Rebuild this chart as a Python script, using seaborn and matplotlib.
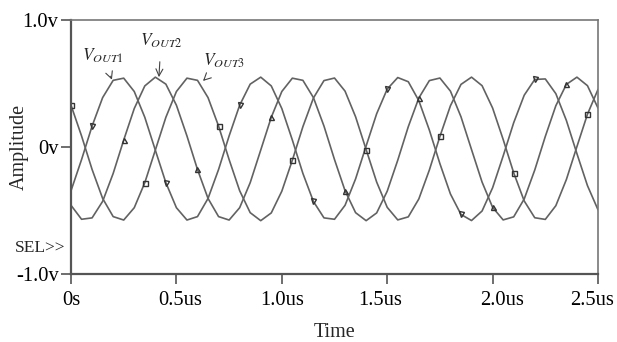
import numpy as np
import seaborn as sns
import matplotlib.pyplot as plt
from matplotlib.transforms import ScaledTranslation

# sample grid (us) and the three outputs (V)
time_us = np.linspace(0, 2.5, 51)

v_out1 = [-0.344, -0.099, 0.165, 0.389, 0.525, 0.542, 0.437, 0.234, -0.025, -0.281,
          -0.478, -0.575, -0.548, -0.405, -0.177, 0.087, 0.329, 0.495, 0.550, 0.481,
          0.303, 0.055, -0.208, -0.429, -0.558, -0.569, -0.459, -0.251, 0.008, 0.262,
          0.456, 0.547, 0.514, 0.365, 0.133, -0.131, -0.370, -0.531, -0.579, -0.504,
          -0.321, -0.071, 0.191, 0.408, 0.532, 0.536, 0.420, 0.209, -0.052, -0.304,
          -0.494]

v_out2 = [-0.459, -0.569, -0.558, -0.428, -0.208, 0.055, 0.303, 0.481, 0.550, 0.495,
          0.329, 0.087, -0.177, -0.405, -0.548, -0.575, -0.478, -0.281, -0.024, 0.234,
          0.437, 0.542, 0.525, 0.389, 0.165, -0.099, -0.344, -0.517, -0.580, -0.519,
          -0.348, -0.104, 0.160, 0.386, 0.523, 0.543, 0.440, 0.238, -0.020, -0.276,
          -0.475, -0.574, -0.550, -0.409, -0.181, 0.083, 0.325, 0.493, 0.550, 0.483,
          0.307]

v_out3 = [0.329, 0.087, -0.177, -0.405, -0.548, -0.575, -0.478, -0.281, -0.024, 0.234,
          0.437, 0.542, 0.525, 0.389, 0.165, -0.099, -0.344, -0.517, -0.580, -0.519,
          -0.348, -0.104, 0.160, 0.386, 0.523, 0.543, 0.440, 0.238, -0.020, -0.276,
          -0.475, -0.574, -0.550, -0.409, -0.181, 0.083, 0.325, 0.493, 0.550, 0.483,
          0.307, 0.060, -0.203, -0.425, -0.557, -0.570, -0.462, -0.256, 0.003, 0.258,
          0.453]

xticks = [0, 0.5, 1.0, 1.5, 2.0, 2.5]
xtick_labels = ["0s", "0.5us", "1.0us", "1.5us", "2.0us", "2.5us"]
yticks = [-1.0, 0, 1.0]
ytick_labels = ["-1.0v", "0v", "1.0v"]

sns.set_theme(style="white")
plt.rcParams["font.family"] = ["Liberation Serif", "DejaVu Serif"]
plt.rcParams["mathtext.fontset"] = "stix"

fig = plt.figure(figsize=(6.17, 3.42), dpi=100)
ax = fig.add_axes([0.1151, 0.1988, 0.8541, 0.7427])

traces = [(v_out1, "v", 2), (v_out2, "^", 5), (v_out3, "s", 0)]
for vals, mk, start in traces:
    sns.lineplot(x=time_us, y=vals, ax=ax, color="#626262", linewidth=1.2,
                 marker=mk, markevery=(start, 7), markersize=3.6,
                 markerfacecolor="none", markeredgecolor="#333333",
                 markeredgewidth=1.0)

ax.set_xlim(0, 2.5)
ax.set_ylim(-1, 1)
ax.set_xticks(xticks)
ax.set_xticklabels(xtick_labels)
ax.set_yticks(yticks)
ax.set_yticklabels(ytick_labels)
ax.tick_params(bottom=True, left=True, direction="out", length=7, width=1.2,
               color="#555555", labelsize=14.8, labelcolor="black")
ax.tick_params(axis="x", pad=5)
ax.tick_params(axis="y", pad=2)

# the scope export nudged a few time labels off their ticks
label_shift_px = [0, 4, 0, -7, 9, -6]
for lab, dx in zip(ax.get_xticklabels(), label_shift_px):
    lab.set_transform(lab.get_transform() + ScaledTranslation(dx / 100, 0, fig.dpi_scale_trans))

for side in ["left", "bottom"]:
    ax.spines[side].set_color("#555555")
    ax.spines[side].set_linewidth(1.6)
for side in ["top", "right"]:
    ax.spines[side].set_color("#777777")
    ax.spines[side].set_linewidth(1.2)

ax.set_xlabel("Time", fontsize=14.5)
ax.set_ylabel("Amplitude", fontsize=14.5)
ax.xaxis.set_label_coords(0.5, -0.192)
ax.yaxis.set_label_coords(-0.08, 0.5)

ax.text(-0.01, 0.102, "SEL>>", transform=ax.transAxes, ha="right", va="center",
        fontsize=12.5)

# curve labels with arrows
labels = [(r"$V_{OUT1}$", (0.194, 0.53), (0.152, 0.717)),
          (r"$V_{OUT2}$", (0.417, 0.55), (0.427, 0.835)),
          (r"$V_{OUT3}$", (0.626, 0.52), (0.725, 0.677))]
for txt, tip, pos in labels:
    ax.annotate(txt, xy=tip, xytext=pos, ha="center", va="center", fontsize=12.5,
                arrowprops=dict(arrowstyle="->", color="#444444", lw=0.8,
                                shrinkA=6, shrinkB=0))

fig.savefig("out.png", dpi=100)
